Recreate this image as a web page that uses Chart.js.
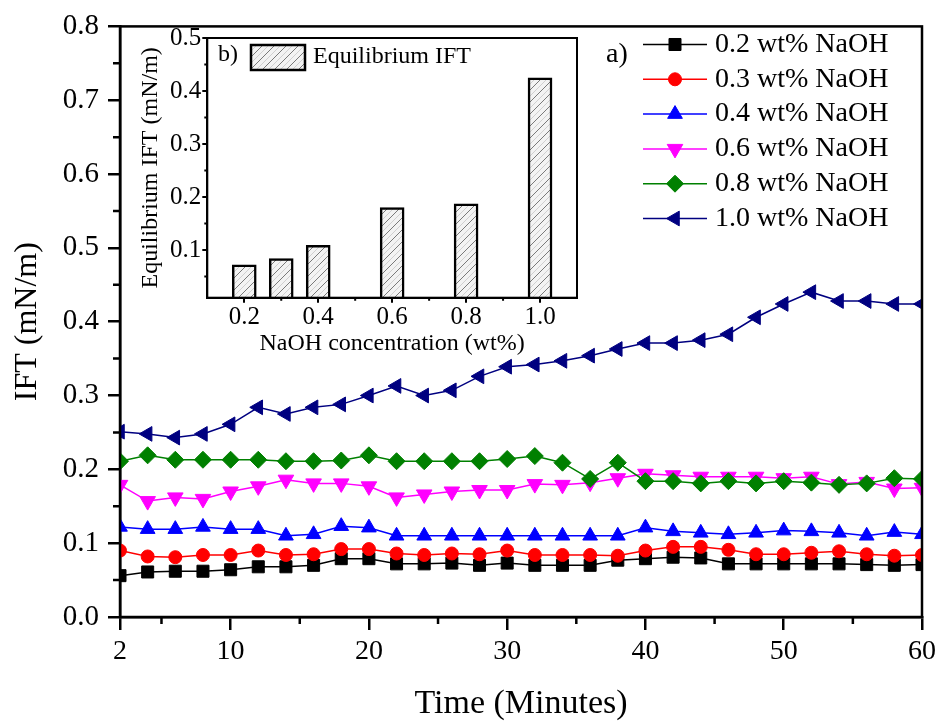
<!DOCTYPE html>
<html>
<head>
<meta charset="utf-8">
<title>IFT vs time</title>
<script src="https://cdn.jsdelivr.net/npm/chart.js@4.4.1/dist/chart.umd.min.js"></script>
<style>
  html, body { margin: 0; padding: 0; background: #fff; }
  #wrap { position: relative; width: 941px; height: 727px; }
  #main { position: absolute; left: 0; top: 0; }
  #inset { position: absolute; left: 130px; top: 22px; }
</style>
</head>
<body>
<div id="wrap">
  <canvas id="main" width="941" height="727"></canvas>
  <canvas id="inset" width="460" height="340"></canvas>
</div>
<script>
        const SERIF = "'Liberation Serif', 'Times New Roman', serif";
        Chart.defaults.font.family = SERIF;
        Chart.defaults.color = '#000';
        const serif = size => ({ family: SERIF, size: size });

        // Time axis (minutes)
        const times = [2, 4, 6, 8, 10, 12, 14, 16, 18, 20, 22, 24, 26, 28, 30,
                       32, 34, 36, 38, 40, 42, 44, 46, 48, 50, 52, 54, 56, 58, 60];
        const timeTicks = [2, 10, 20, 30, 40, 50, 60];
        const timeMinorTicks = [5, 15, 25, 35, 45, 55];
        const iftTicks = [0, 0.1, 0.2, 0.3, 0.4, 0.5, 0.6, 0.7, 0.8];
        const iftMinorTicks = [0.05, 0.15, 0.25, 0.35, 0.45, 0.55, 0.65, 0.75];

        // IFT (mN/m) per NaOH concentration
        const seriesLabels = ['0.2 wt% NaOH', '0.3 wt% NaOH', '0.4 wt% NaOH',
                              '0.6 wt% NaOH', '0.8 wt% NaOH', '1.0 wt% NaOH'];
        const ift02 = [0.056, 0.061, 0.062, 0.062, 0.064, 0.068, 0.068, 0.070, 0.079, 0.079,
                       0.072, 0.072, 0.073, 0.070, 0.073, 0.070, 0.070, 0.070, 0.077, 0.079,
                       0.081, 0.080, 0.072, 0.072, 0.072, 0.072, 0.072, 0.071, 0.070, 0.071];
        const ift03 = [0.090, 0.082, 0.081, 0.084, 0.084, 0.090, 0.084, 0.085, 0.092, 0.092,
                       0.086, 0.084, 0.086, 0.085, 0.090, 0.084, 0.084, 0.084, 0.083, 0.090,
                       0.095, 0.095, 0.091, 0.085, 0.085, 0.087, 0.089, 0.085, 0.083, 0.084];
        const ift04 = [0.122, 0.119, 0.119, 0.122, 0.119, 0.119, 0.110, 0.112, 0.123, 0.121,
                       0.110, 0.110, 0.110, 0.110, 0.110, 0.110, 0.110, 0.110, 0.110, 0.121,
                       0.116, 0.114, 0.112, 0.114, 0.117, 0.116, 0.114, 0.110, 0.115, 0.112];
        const ift06 = [0.179, 0.157, 0.162, 0.160, 0.170, 0.177, 0.186, 0.181, 0.181, 0.177,
                       0.162, 0.166, 0.170, 0.172, 0.172, 0.180, 0.179, 0.182, 0.188, 0.194,
                       0.192, 0.190, 0.190, 0.190, 0.188, 0.190, 0.180, 0.183, 0.174, 0.175];
        const ift08 = [0.211, 0.219, 0.213, 0.213, 0.213, 0.213, 0.211, 0.211, 0.212, 0.219,
                       0.211, 0.211, 0.211, 0.211, 0.214, 0.218, 0.209, 0.187, 0.209, 0.184,
                       0.184, 0.181, 0.184, 0.181, 0.184, 0.182, 0.179, 0.181, 0.188, 0.187];
        const ift10 = [0.251, 0.248, 0.243, 0.248, 0.261, 0.284, 0.275, 0.284, 0.288, 0.300,
                       0.313, 0.300, 0.307, 0.326, 0.339, 0.342, 0.347, 0.354, 0.363, 0.371,
                       0.371, 0.375, 0.383, 0.406, 0.424, 0.440, 0.428, 0.428, 0.424, 0.424];

        // Inset: equilibrium IFT vs concentration
        const concentrations = [0.2, 0.3, 0.4, 0.6, 0.8, 1.0];
        const equilibriumIFT = [0.072, 0.084, 0.109, 0.180, 0.187, 0.425];
        const concTicks = [0.2, 0.4, 0.6, 0.8, 1.0];
        const concMinorTicks = [0.3, 0.5, 0.7, 0.9];
        const eqTicks = [0.1, 0.2, 0.3, 0.4, 0.5];
        const eqMinorTicks = [0.05, 0.15, 0.25, 0.35, 0.45];

        const seriesValues = [ift02, ift03, ift04, ift06, ift08, ift10];
        const seriesStyles = [
            { color: '#000000', pointStyle: 'rect', radius: 8.5, rotation: 0 },
            { color: '#ff0000', pointStyle: 'circle', radius: 6.5, rotation: 0 },
            { color: '#0000ff', pointStyle: 'triangle', radius: 8.5, rotation: 0 },
            { color: '#ff00ff', pointStyle: 'triangle', radius: 9, rotation: 180 },
            { color: '#008000', pointStyle: 'rectRot', radius: 8.5, rotation: 0 },
            { color: '#000080', pointStyle: 'triangle', radius: 8.5, rotation: 270 }
        ];

        // Box frame plus minor ticks on the bottom/left axes
        const framePlugin = {
            id: 'frame',
            afterDatasetsDraw(chart, args, opts) {
                const { ctx, chartArea: a, scales } = chart;
                ctx.save();
                ctx.strokeStyle = '#000';
                ctx.lineWidth = opts.lineWidth;
                ctx.strokeRect(a.left, a.top, a.right - a.left, a.bottom - a.top);
                ctx.lineWidth = opts.tickWidth;
                ctx.beginPath();
                opts.xMinor.forEach(v => {
                    const px = scales.x.getPixelForValue(v);
                    ctx.moveTo(px, a.bottom);
                    ctx.lineTo(px, a.bottom + opts.minorLength);
                });
                opts.yMinor.forEach(v => {
                    const py = scales.y.getPixelForValue(v);
                    ctx.moveTo(a.left, py);
                    ctx.lineTo(a.left - opts.minorLength, py);
                });
                ctx.stroke();
                ctx.restore();
            }
        };

        // Legend drawn inside the plot, top right
        const seriesLegend = {
            id: 'seriesLegend',
            afterDraw(chart) {
                const ctx = chart.ctx;
                ctx.save();
                ctx.textBaseline = 'middle';
                ctx.fillStyle = '#000';
                ctx.font = '28px ' + SERIF;
                ctx.fillText('a)', 606, 55);
                chart.data.datasets.forEach((ds, i) => {
                    const y = 44.5 + i * 34.8;
                    ctx.strokeStyle = ds.borderColor;
                    ctx.lineWidth = 1.5;
                    ctx.beginPath();
                    ctx.moveTo(643, y);
                    ctx.lineTo(707, y);
                    ctx.stroke();
                    ctx.fillStyle = ds.pointBackgroundColor;
                    ctx.strokeStyle = ds.pointBorderColor;
                    ctx.lineWidth = 1;
                    Chart.helpers.drawPoint(ctx, {
                        pointStyle: ds.pointStyle,
                        radius: ds.pointRadius,
                        rotation: ds.pointRotation,
                        borderWidth: 1
                    }, 675, y);
                    ctx.fillStyle = '#000';
                    ctx.font = '28px ' + SERIF;
                    ctx.fillText(ds.label, 715, y);
                });
                ctx.restore();
            }
        };

        new Chart(document.getElementById('main'), {
            type: 'line',
            data: {
                datasets: seriesLabels.map((label, i) => {
                    const st = seriesStyles[i];
                    return {
                        label: label,
                        data: times.map((t, j) => ({ x: t, y: seriesValues[i][j] })),
                        borderColor: st.color,
                        backgroundColor: st.color,
                        pointBackgroundColor: st.color,
                        pointBorderColor: st.color,
                        borderWidth: 1.5,
                        pointStyle: st.pointStyle,
                        pointRadius: st.radius,
                        pointRotation: st.rotation,
                        pointBorderWidth: 1,
                        tension: 0,
                        order: seriesLabels.length - i
                    };
                })
            },
            options: {
                responsive: false,
                animation: false,
                events: [],
                layout: { padding: { left: 0, top: 19, right: 19, bottom: 0 } },
                plugins: {
                    legend: { display: false },
                    tooltip: { enabled: false },
                    frame: { lineWidth: 2.5, tickWidth: 2.5, minorLength: 7, xMinor: timeMinorTicks, yMinor: iftMinorTicks }
                },
                scales: {
                    x: {
                        type: 'linear',
                        min: 2,
                        max: 60,
                        afterBuildTicks: s => { s.ticks = timeTicks.map(v => ({ value: v })); },
                        afterFit: s => { s.height = 110; },
                        ticks: { font: serif(28), padding: 5, maxRotation: 0, autoSkip: false, callback: v => String(v) },
                        grid: { drawOnChartArea: false, tickLength: 13, lineWidth: 2.5, tickWidth: 2.5, tickColor: '#000' },
                        border: { color: '#000', width: 2.5 },
                        title: { display: true, text: 'Time (Minutes)', font: serif(34), padding: { top: 0, bottom: 3 } }
                    },
                    y: {
                        type: 'linear',
                        min: 0,
                        max: 0.8,
                        afterBuildTicks: s => { s.ticks = iftTicks.map(v => ({ value: v })); },
                        afterFit: s => { s.width = 120; },
                        ticks: { font: serif(29), padding: 9, autoSkip: false, callback: v => v.toFixed(1) },
                        grid: { drawOnChartArea: false, tickLength: 12, lineWidth: 2.5, tickWidth: 2.5, tickColor: '#000' },
                        border: { color: '#000', width: 2.5 },
                        title: { display: true, text: 'IFT (mN/m)', font: serif(32), padding: { top: 8, bottom: 0 } }
                    }
                }
            },
            plugins: [framePlugin, seriesLegend]
        });

        // Hatched fill for the inset bars
        const insetCanvas = document.getElementById('inset');
        function makeHatch(ctx) {
            const c = document.createElement('canvas');
            c.width = 12;
            c.height = 12;
            const g = c.getContext('2d');
            g.fillStyle = '#f3f3f3';
            g.fillRect(0, 0, 12, 12);
            g.lineWidth = 1;
            g.strokeStyle = '#d0d0d0';
            g.beginPath();
            g.moveTo(-1, 7); g.lineTo(7, -1);
            g.moveTo(5, 13); g.lineTo(13, 5);
            g.stroke();
            g.strokeStyle = '#7a7a7a';
            g.beginPath();
            g.moveTo(-1, 13); g.lineTo(13, -1);
            g.stroke();
            return ctx.createPattern(c, 'repeat');
        }
        const hatch = makeHatch(insetCanvas.getContext('2d'));

        const insetLegend = {
            id: 'insetLegend',
            afterDraw(chart) {
                const ctx = chart.ctx;
                ctx.save();
                ctx.textBaseline = 'middle';
                ctx.fillStyle = '#000';
                ctx.font = '24px ' + SERIF;
                ctx.fillText('b)', 88, 33);
                ctx.fillStyle = hatch;
                ctx.fillRect(121, 23, 54, 25);
                ctx.strokeStyle = '#000';
                ctx.lineWidth = 2.5;
                ctx.strokeRect(121, 23, 54, 25);
                ctx.fillStyle = '#000';
                ctx.fillText(chart.data.datasets[0].label, 183, 35);
                ctx.restore();
            }
        };

        new Chart(insetCanvas, {
            type: 'bar',
            data: {
                datasets: [{
                    label: 'Equilibrium IFT',
                    data: concentrations.map((c, i) => ({ x: c, y: equilibriumIFT[i] })),
                    backgroundColor: hatch,
                    borderColor: '#000',
                    borderWidth: 2.5,
                    borderSkipped: false,
                    barThickness: 24
                }]
            },
            options: {
                responsive: false,
                animation: false,
                events: [],
                layout: { padding: { left: 0, top: 15.7, right: 13, bottom: 0 } },
                plugins: {
                    legend: { display: false },
                    tooltip: { enabled: false },
                    frame: { lineWidth: 2, tickWidth: 2, minorLength: 3, xMinor: concMinorTicks, yMinor: eqMinorTicks }
                },
                scales: {
                    x: {
                        type: 'linear',
                        min: 0.1,
                        max: 1.1,
                        offset: false,
                        afterBuildTicks: s => { s.ticks = concTicks.map(v => ({ value: v })); },
                        afterFit: s => { s.height = 64.3; },
                        ticks: { font: serif(25), padding: 0, maxRotation: 0, autoSkip: false, callback: v => v.toFixed(1) },
                        grid: { offset: false, drawOnChartArea: false, tickLength: 5, lineWidth: 2, tickWidth: 2, tickColor: '#000' },
                        border: { color: '#000', width: 2 },
                        title: { display: true, text: 'NaOH concentration (wt%)', font: serif(24), padding: { top: 0, bottom: 4 } }
                    },
                    y: {
                        type: 'linear',
                        min: 0.01,
                        max: 0.5,
                        afterBuildTicks: s => { s.ticks = eqTicks.map(v => ({ value: v })); },
                        afterFit: s => { s.width = 77.3; },
                        ticks: { font: serif(25), padding: 1, autoSkip: false, callback: v => v.toFixed(1) },
                        grid: { drawOnChartArea: false, tickLength: 5, lineWidth: 2, tickWidth: 2, tickColor: '#000' },
                        border: { color: '#000', width: 2 },
                        title: { display: true, text: 'Equilibrium IFT (mN/m)', font: serif(24), padding: { top: 6, bottom: 0 } }
                    }
                }
            },
            plugins: [framePlugin, insetLegend]
        });
</script>
</body>
</html>
